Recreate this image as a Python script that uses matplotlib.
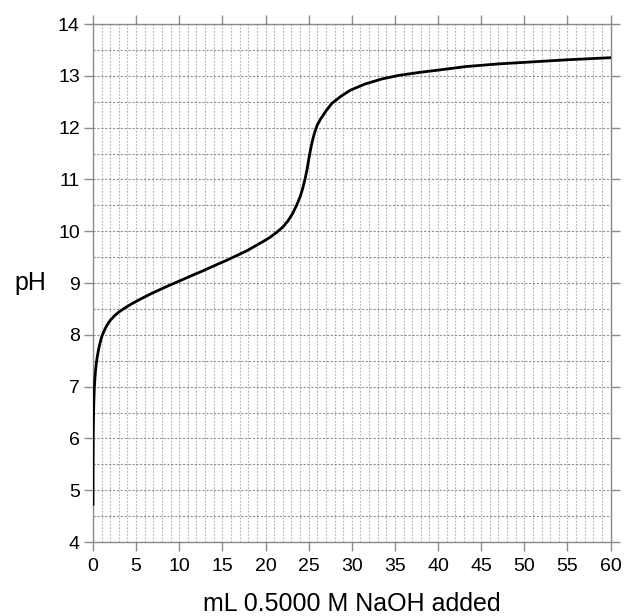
import matplotlib
matplotlib.use("Agg")
import matplotlib.pyplot as plt
import numpy as np
from matplotlib.ticker import MultipleLocator

volume_ml = [0.0, 0.01, 0.02, 0.04, 0.07, 0.1, 0.15, 0.22, 0.3, 0.4, 0.5, 0.65, 0.8, 1.0,
             1.3, 1.6, 2.0, 2.5, 3.0, 3.7, 4.5, 5.5, 6.8, 8.5, 10.3, 11.8, 12.4, 14.0,
             15.5, 17.8, 19.5, 20.5, 21.3, 22.0, 22.6, 23.1, 23.6, 24.0, 24.3, 24.6,
             24.8, 25.0, 25.2, 25.4, 25.6, 25.8, 26.0, 26.4, 27.0, 27.7, 28.7, 29.8,
             31.5, 33.5, 35.5, 38.0, 40.0, 43.3, 47.0, 51.0, 55.0, 60.0]
ph_values = [4.73, 5.3, 5.8, 6.2, 6.5, 6.7, 6.95, 7.15, 7.32, 7.47, 7.58, 7.72, 7.83, 7.96,
             8.08, 8.18, 8.28, 8.37, 8.44, 8.52, 8.6, 8.69, 8.8, 8.93, 9.06, 9.17, 9.21, 9.33,
             9.44, 9.62, 9.78, 9.88, 9.98, 10.08, 10.2, 10.33, 10.5, 10.66, 10.82, 11.02,
             11.18, 11.38, 11.56, 11.72, 11.85, 11.96, 12.05, 12.17, 12.32, 12.47, 12.6, 12.72,
             12.84, 12.94, 13.01, 13.07, 13.11, 13.18, 13.23, 13.27, 13.31, 13.35]

x_ticks = [0, 5, 10, 15, 20, 25, 30, 35, 40, 45, 50, 55, 60]
y_ticks = [4, 5, 6, 7, 8, 9, 10, 11, 12, 13, 14]

plt.rcParams["font.family"] = ["Liberation Sans", "DejaVu Sans"]

fig = plt.figure(figsize=(6.24, 6.16), dpi=100)
ax = fig.add_axes([0.149, 0.12, 0.8295, 0.841])

ax.plot(volume_ml, ph_values, color="black", linewidth=2.0, solid_joinstyle="round", zorder=3)

ax.set_xlim(0, 60)
ax.set_ylim(4, 14)
ax.set_xticks(x_ticks)
ax.set_yticks(y_ticks)
ax.xaxis.set_minor_locator(MultipleLocator(1))
ax.yaxis.set_minor_locator(MultipleLocator(0.5))

spine_color = "#8c8c8c"
for side in ["left", "right", "top", "bottom"]:
    ax.spines[side].set_color(spine_color)
    ax.spines[side].set_linewidth(1.0)

ax.tick_params(which="major", direction="out", length=6.5, width=1.0, color=spine_color,
               labelsize=14, top=True, right=True, labeltop=False, labelright=False)
ax.tick_params(axis="x", which="major", pad=5)
ax.tick_params(axis="y", which="major", pad=3)
ax.tick_params(which="minor", length=0)

ax.grid(True, which="both", axis="x", color="#b0b0b0", linestyle=(0, (1.5, 1.5)), linewidth=0.8)
ax.grid(True, which="both", axis="y", color="#909090", linestyle=(0, (2, 1.5)), linewidth=0.8)
ax.set_axisbelow(True)

ax.set_xlabel("mL 0.5000 M NaOH added", fontsize=18, labelpad=12)
ax.set_ylabel("pH", fontsize=18, rotation=0, labelpad=20, va="center")

fig.savefig("out.png", dpi=100)
